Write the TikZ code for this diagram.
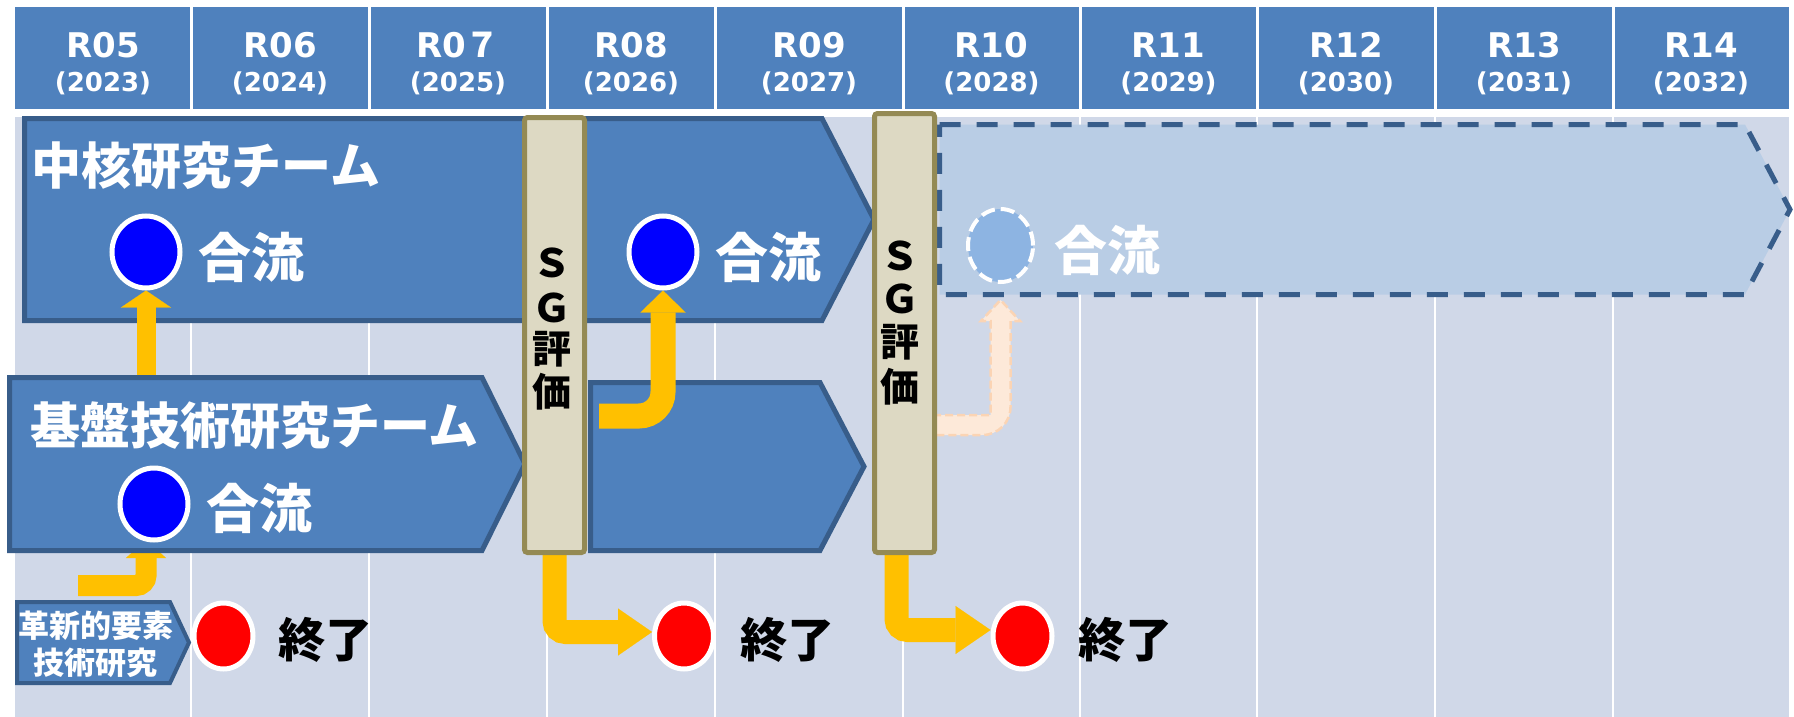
\documentclass[tikz,border=0pt]{standalone}
\usepackage{fontspec}
\setmainfont{DejaVu Sans}
\newfontfamily\jp{Noto Sans CJK JP}
\usetikzlibrary{arrows.meta,shapes.geometric,calc}
\definecolor{hdrblue}{HTML}{4F81BD}
\definecolor{bodybg}{HTML}{D0D8E8}
\definecolor{boxline}{HTML}{385D8A}
\definecolor{sgfill}{HTML}{DDD9C3}
\definecolor{sgline}{HTML}{948A54}
\definecolor{ayellow}{HTML}{FFC000}
\definecolor{futfill}{HTML}{B9CDE5}
\definecolor{futcirc}{HTML}{8DB4E2}
\definecolor{peach}{HTML}{FDE9D9}
\definecolor{peachline}{HTML}{FBD4B4}
\pgfdeclarelayer{tbl}
\pgfdeclarelayer{lowbox}
\pgfdeclarelayer{highbox}
\pgfsetlayers{tbl,lowbox,highbox,main}
\begin{document}
\begin{tikzpicture}[x=1pt,y=-1pt,
  hdrlbl/.style={text=white,font=\bfseries\fontsize{34pt}{34pt}\selectfont,inner sep=0pt,anchor=base},
  yrlbl/.style={text=white,font=\bfseries\fontsize{26pt}{26pt}\selectfont,inner sep=0pt,anchor=base},
  teamlbl/.style={text=white,font=\jp\bfseries\fontsize{50pt}{50pt}\selectfont,inner sep=0pt},
  mergelbl/.style={text=white,font=\jp\bfseries\fontsize{53pt}{53pt}\selectfont,inner sep=0pt},
  endlbl/.style={text=black,font=\jp\bfseries\fontsize{47pt}{47pt}\selectfont,inner sep=0pt},
  sglbl/.style={text=black,font=\jp\bfseries\fontsize{39pt}{39pt}\selectfont,inner sep=0pt,anchor=base},
  smalllbl/.style={text=white,font=\jp\bfseries\fontsize{31pt}{37pt}\selectfont,inner sep=0pt,align=center},
  bluebox/.style={fill=hdrblue,draw=boxline,line width=5pt,line join=miter},
  futbox/.style={fill=futfill,draw=boxline,line width=5pt,dash pattern=on 21pt off 16pt},
  sgbar/.style={rectangle,fill=sgfill,draw=sgline,line width=5pt,rounded corners=3pt,minimum width=60pt,inner sep=0pt},
  bluedot/.style={ellipse,fill=blue,draw=white,line width=5pt,minimum width=68pt,minimum height=72pt,inner sep=0pt},
  reddot/.style={ellipse,fill=red,draw=white,line width=5pt,minimum width=59pt,minimum height=66pt,inner sep=0pt},
  futdot/.style={ellipse,fill=futcirc,draw=white,line width=4pt,dash pattern=on 14pt off 6pt,minimum width=65pt,minimum height=73pt,inner sep=0pt},
  yarr/.style={draw=ayellow,line width=#1},
]
\useasboundingbox (0,0) rectangle (1794,717);

% ---------- table ----------
\begin{pgfonlayer}{tbl}
\fill[white] (0,0) rectangle (1794,717);
\fill[hdrblue] (15,7) rectangle (1789,109);
\fill[bodybg] (15,117) rectangle (1789,717);
\foreach \x in {191,369,547,715,903,1080,1257,1435,1613}{
  \draw[white,line width=3pt] (\x,7) -- (\x,109);
  \draw[white,line width=2.5pt] (\x,117) -- (\x,717);
}
\end{pgfonlayer}

\foreach \c/\r/\yr [count=\i] in {103/R05/2023, 280/R06/2024, 458/{R0{\jp ７}}/2025, 631/R08/2026, 809/R09/2027, 991.5/R10/2028, 1168.5/R11/2029, 1346/R12/2030, 1524/R13/2031, 1701/R14/2032}{
  \node[hdrlbl] (hd\i) at (\c,57.5) {\r};
  \node[yrlbl] (yr\i) at (\c,92) {(\yr)};
}

% ---------- SG bars ----------
\node[sgbar,minimum height=435pt] (sg1) at (554.5,335) {};
\node[sgbar,minimum height=439pt] (sg2) at (904.5,333) {};
\node[sglbl] (sg1a) at (551.5,277) {Ｓ};
\node[sglbl] (sg1b) at (551.5,322) {Ｇ};
\node[sglbl] (sg1c) at (551.5,363) {評};
\node[sglbl] (sg1d) at (551.5,406) {価};
\node[sglbl] (sg2a) at (899.5,270) {Ｓ};
\node[sglbl] (sg2b) at (899.5,313) {Ｇ};
\node[sglbl] (sg2c) at (899.5,356) {評};
\node[sglbl] (sg2d) at (899.5,401) {価};

% ---------- circles and labels ----------
\node[bluedot] (c1) at (146,252) {};
\node[bluedot] (c2) at (663,252) {};
\node[bluedot] (c3) at (154,504) {};
\node[futdot] (fd) at (1000.5,245.5) {};
\node[reddot] (r1) at (223.5,636) {};
\node[reddot] (r2) at (684,636) {};
\node[reddot] (r3) at (1022.5,636) {};

\node[teamlbl] (core) at (206,166) {中核研究チーム};
\node[teamlbl] (base) at (254.5,426) {基盤技術研究チーム};
\node[mergelbl] (m1) at (251,257) {合流};
\node[mergelbl] (m2) at (768,257) {合流};
\node[mergelbl] (m3) at (259.5,508) {合流};
\node[mergelbl] (m4) at (1107,250) {合流};
\node[endlbl] (e1) at (325.5,640) {終了};
\node[endlbl] (e2) at (787,640) {終了};
\node[endlbl] (e3) at (1125.5,640) {終了};

% small box
\draw[bluebox,line width=4pt] (17,602) -- (170,602) -- (189,642.5) -- (170,683) -- (17,683) -- cycle;
\node[smalllbl] (inno) at (96,644) {革新的要素\\技術研究};

% ---------- lower box layer ----------
\begin{pgfonlayer}{lowbox}
\draw[bluebox] (24.5,118.5) -- (822,118.5) -- (874,219.5) -- (822,320.5) -- (24.5,320.5) -- cycle;
\draw[futbox] (939.5,124.5) -- (1745,124.5) -- (1790,209.5) -- (1745,294.5) -- (939.5,294.5) -- cycle;
\coordinate (aS) at (147,395);
\draw[yarr=19pt,-{Triangle[length=17pt,width=50pt,line width=0.1pt]}] (c1.south |- aS) -- (c1.south);
\coordinate (bS) at (78,585.5);
\coordinate (bE) at (146,540);
\draw[yarr=21pt,rounded corners=10pt,-{Triangle[length=18pt,width=40pt,line width=0.1pt]}] (bS) -| (bE);
\end{pgfonlayer}

% ---------- upper box layer ----------
\begin{pgfonlayer}{highbox}
\draw[bluebox] (9.5,377.5) -- (482,377.5) -- (525,464) -- (482,550.5) -- (9.5,550.5) -- cycle;
\draw[bluebox] (590.5,382.5) -- (820,382.5) -- (864,466.5) -- (820,550.5) -- (590.5,550.5) -- cycle;
\coordinate (cS) at (599,416);
\draw[yarr=25pt,rounded corners=24pt,-{Triangle[length=22pt,width=45pt,line width=0.1pt]}] (cS) -| (c2.south);
\draw[yarr=24pt,rounded corners=11pt,-{Triangle[length=34pt,width=47pt,line width=0.1pt]}] (sg1.south) |- ($(r2.west)+(0,-4)$);
\draw[yarr=24pt,rounded corners=11pt,-{Triangle[length=35pt,width=48pt,line width=0.1pt]}] ($(sg2.south)+(-8,0)$) |- ($(r3.west)+(0,-6)$);
\draw[fill=peach,draw=peachline,line width=2.5pt,dash pattern=on 8pt off 4pt]
  (933,415) -- (990.5,415) -- (990.5,321) -- (981,321) -- (1000.5,300) -- (1020,321) -- (1010.5,321) -- (1010.5,407)
  .. controls (1010.5,422.5) and (998,435) .. (982.5,435) -- (933,435) -- cycle;
\end{pgfonlayer}
\end{tikzpicture}
\end{document}
